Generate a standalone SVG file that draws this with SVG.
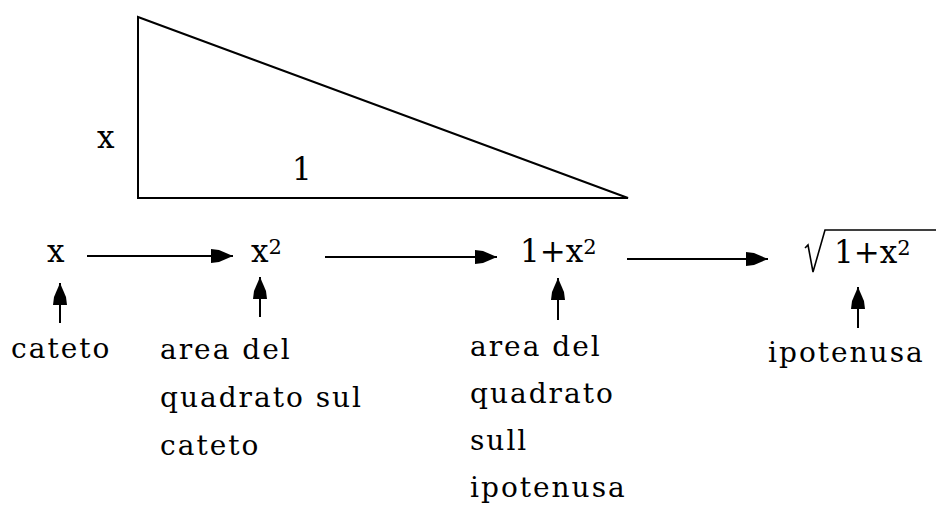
<svg xmlns="http://www.w3.org/2000/svg" width="936" height="508" viewBox="0 0 936 508">
<style>
  text { font-family: "DejaVu Serif", "Liberation Serif", serif; fill: #000; }
  .lbl { font-size: 28px; letter-spacing: 2px; }
  .m { font-size: 31px; }
  .sup { font-size: 21px; }
  .ln { stroke: #000; stroke-width: 2; fill: none; }
</style>
<defs>
  <marker id="ah" markerUnits="userSpaceOnUse" markerWidth="26" markerHeight="20" refX="23" refY="10" orient="auto">
    <path d="M23,10 L9,4 L1,3 L1,17 L9,16 Z" fill="#000"/>
  </marker>
</defs>
<rect width="936" height="508" fill="#fff"/>
<g id="triangle">
  <path d="M138,17 L138,198 L628,198 Z" class="ln"/>
  <text class="m" x="97" y="148">x</text>
  <text class="m" x="292" y="180">1</text>
</g>
<g id="n-x">
  <text class="m" x="47" y="262">x</text>
</g>
<g id="n-x2">
  <text class="m" x="251" y="262">x<tspan class="sup" dy="-8">2</tspan></text>
</g>
<g id="n-1x2">
  <text class="m" x="520" y="262">1+x<tspan class="sup" dy="-8">2</tspan></text>
</g>
<g id="n-sqrt">
  <path d="M805,248 L808,245 L813,272 L825,230 L936,230" stroke="#000" stroke-width="1.6" fill="none"/>
  <text class="m" x="834" y="263">1+x<tspan class="sup" dy="-8">2</tspan></text>
</g>
<g id="l-cateto">
  <text class="lbl" x="11" y="358">cateto</text>
</g>
<g id="l-area1">
  <text class="lbl" x="160" y="359">area del</text>
  <text class="lbl" x="160" y="407">quadrato sul</text>
  <text class="lbl" x="160" y="455">cateto</text>
</g>
<g id="l-area2">
  <text class="lbl" x="470" y="356">area del</text>
  <text class="lbl" x="470" y="403">quadrato</text>
  <text class="lbl" x="470" y="450">sull</text>
  <text class="lbl" x="470" y="497">ipotenusa</text>
</g>
<g id="l-ipotenusa">
  <text class="lbl" x="768" y="362">ipotenusa</text>
</g>
<g id="connectors" stroke="#000" stroke-width="2" fill="none">
  <line x1="87" y1="256" x2="233" y2="256" marker-end="url(#ah)"/>
  <line x1="325" y1="257" x2="497" y2="257" marker-end="url(#ah)"/>
  <line x1="627" y1="259" x2="768" y2="259" marker-end="url(#ah)"/>
  <line x1="60" y1="323" x2="60" y2="283" marker-end="url(#ah)"/>
  <line x1="260" y1="317" x2="260" y2="277" marker-end="url(#ah)"/>
  <line x1="558" y1="320" x2="558" y2="278" marker-end="url(#ah)"/>
  <line x1="858" y1="328" x2="858" y2="287" marker-end="url(#ah)"/>
</g>
</svg>
